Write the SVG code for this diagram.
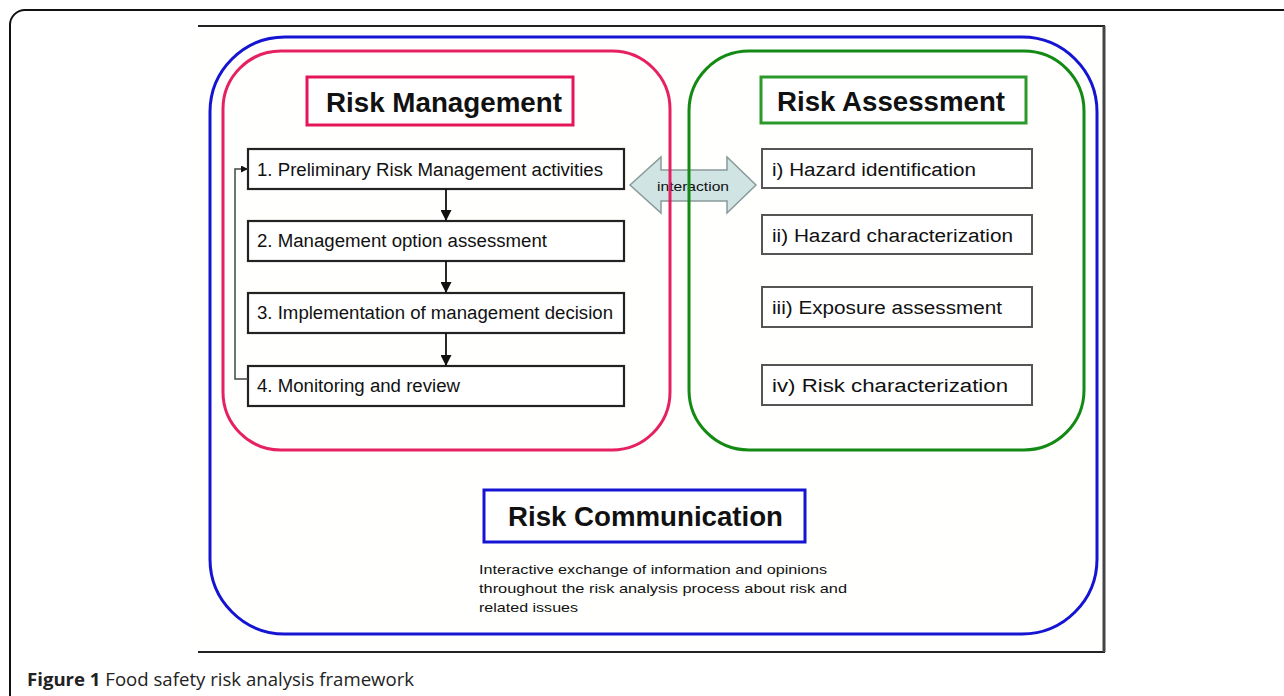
<svg xmlns="http://www.w3.org/2000/svg" width="1284" height="696" viewBox="0 0 1284 696">
<style>
.t{font-family:"Liberation Sans",Arial,sans-serif;fill:#111}
.title{font-weight:bold;font-size:27px}
.item{font-size:18px}
.box{fill:#fff;stroke:#222;stroke-width:2.2}
.rbox{fill:#fff;stroke:#555;stroke-width:2}
.flow{stroke:#111;stroke-width:1.8;fill:none}
.cap{font-family:"Open Sans","Noto Sans",sans-serif;font-size:18.6px;fill:#222}
</style>
<defs>
<marker id="ah" viewBox="0 0 10 10" refX="10" refY="5" markerWidth="7" markerHeight="7" orient="auto" markerUnits="userSpaceOnUse">
<path d="M0,0 L10,5 L0,10 z" fill="#111"/>
</marker>
<marker id="ah2" viewBox="0 0 10 10" refX="10" refY="5" markerWidth="11" markerHeight="11" orient="auto" markerUnits="userSpaceOnUse">
<path d="M0,0 L10,5 L0,10 z" fill="#111"/>
</marker>
</defs>
<rect width="1284" height="696" fill="#fff"/>
<!-- page frame -->
<path d="M1290,10 H25 A15,15 0 0 0 10,25 V700" fill="none" stroke="#111" stroke-width="2"/>
<!-- image frame -->
<rect x="198" y="26" width="906" height="626" fill="#fffffd"/>
<path d="M198,26 H1104 V652 H198" fill="none" stroke="#222" stroke-width="2"/>
<line x1="1104" y1="26" x2="1104" y2="652" stroke="#444" stroke-width="3"/>

<g id="risk-communication">
<rect x="210" y="37" width="887" height="597" rx="75" fill="none" stroke="#1414d2" stroke-width="3"/>
<rect x="484" y="490" width="321" height="52" fill="#fff" stroke="#1414d2" stroke-width="3"/>
<text class="t title" x="508" y="526" textLength="275" lengthAdjust="spacingAndGlyphs">Risk Communication</text>
<text class="t" font-size="13.5" x="479" y="574" textLength="348" lengthAdjust="spacingAndGlyphs">Interactive exchange of information and opinions</text>
<text class="t" font-size="13.5" x="479" y="593" textLength="368" lengthAdjust="spacingAndGlyphs">throughout the risk analysis process about risk and</text>
<text class="t" font-size="13.5" x="479" y="612" textLength="99" lengthAdjust="spacingAndGlyphs">related issues</text>
</g>

<g id="interaction">
<path d="M630,185 L661,157 L661,170 L727,170 L727,157 L756,185 L727,213 L727,201 L661,201 L661,213 Z" fill="#cfe4e3" stroke="#8a9a9a" stroke-width="1.5"/>
<text class="t" font-size="13.5" x="693" y="191" text-anchor="middle" textLength="72" lengthAdjust="spacingAndGlyphs" fill="#222">interaction</text>
</g>

<g id="risk-management">
<rect x="223" y="51" width="447" height="399" rx="58" fill="none" stroke="#e5155a" stroke-width="3" stroke-opacity="0.95"/>
<rect x="307" y="77" width="266" height="48" fill="#fff" stroke="#e5155a" stroke-width="3"/>
<text class="t title" x="326" y="112" textLength="236" lengthAdjust="spacingAndGlyphs">Risk Management</text>
</g>

<g id="risk-assessment">
<rect x="689" y="51" width="395" height="399" rx="60" fill="none" stroke="#138a13" stroke-width="3"/>
<rect x="761" y="77" width="265" height="46" fill="#fff" stroke="#2a9a2a" stroke-width="3"/>
<text class="t title" x="777" y="111" textLength="228" lengthAdjust="spacingAndGlyphs">Risk Assessment</text>
</g>

<g id="rm1"><rect class="box" x="248" y="149" width="376" height="40"/><text class="t item" x="257" y="176" textLength="346" lengthAdjust="spacingAndGlyphs">1. Preliminary Risk Management activities</text></g>
<g id="rm2"><rect class="box" x="248" y="221" width="376" height="40"/><text class="t item" x="257" y="247" textLength="290" lengthAdjust="spacingAndGlyphs">2. Management option assessment</text></g>
<g id="rm3"><rect class="box" x="248" y="293" width="376" height="40"/><text class="t item" x="257" y="319" textLength="356" lengthAdjust="spacingAndGlyphs">3. Implementation of management decision</text></g>
<g id="rm4"><rect class="box" x="248" y="366" width="376" height="40"/><text class="t item" x="257" y="392" textLength="203" lengthAdjust="spacingAndGlyphs">4. Monitoring and review</text></g>

<g id="ra1"><rect class="rbox" x="762" y="149" width="270" height="39"/><text class="t item" x="772" y="176" textLength="204" lengthAdjust="spacingAndGlyphs" fill="#222">i) Hazard identification</text></g>
<g id="ra2"><rect class="rbox" x="762" y="215" width="270" height="39"/><text class="t item" x="772" y="242" textLength="241" lengthAdjust="spacingAndGlyphs" fill="#222">ii) Hazard characterization</text></g>
<g id="ra3"><rect class="rbox" x="762" y="287" width="270" height="40"/><text class="t item" x="772" y="314" textLength="230" lengthAdjust="spacingAndGlyphs" fill="#222">iii) Exposure assessment</text></g>
<g id="ra4"><rect class="rbox" x="762" y="365" width="270" height="40"/><text class="t item" x="772" y="392" textLength="236" lengthAdjust="spacingAndGlyphs" fill="#222">iv) Risk characterization</text></g>

<g id="connectors">
<line class="flow" x1="446" y1="189" x2="446" y2="221" marker-end="url(#ah2)"/>
<line class="flow" x1="446" y1="261" x2="446" y2="293" marker-end="url(#ah2)"/>
<line class="flow" x1="446" y1="333" x2="446" y2="366" marker-end="url(#ah2)"/>
<path d="M248,379 H235 V169 H248" fill="none" stroke="#444" stroke-width="1.5" marker-end="url(#ah)"/>
</g>

<text class="cap" x="27" y="686"><tspan font-weight="bold">Figure 1</tspan> Food safety risk analysis framework</text>
</svg>
